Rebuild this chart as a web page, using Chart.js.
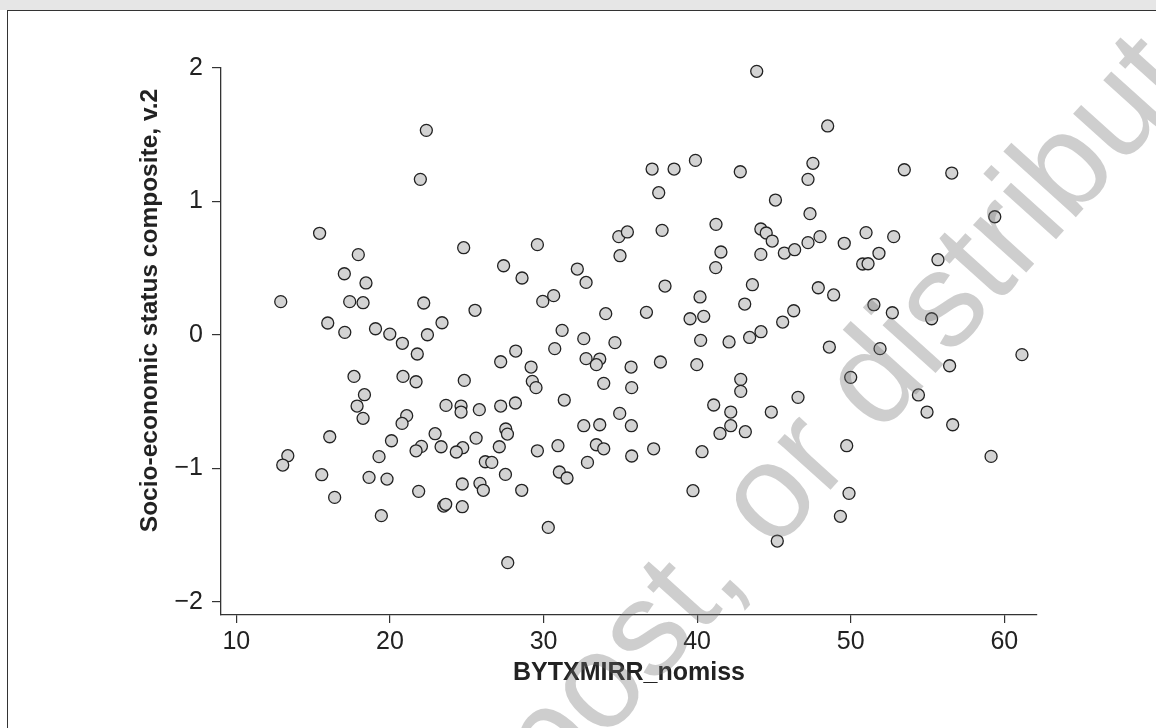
<!DOCTYPE html>
<html>
<head>
<meta charset="utf-8">
<script src="https://cdn.jsdelivr.net/npm/chart.js@4.4.1/dist/chart.umd.min.js"></script>
<style>
    html, body { margin: 0; padding: 0; background: #fff; }
    body { width: 1156px; height: 728px; position: relative; overflow: hidden; }
    .topbar { position: absolute; left: 0; top: 0; width: 1156px; height: 10px; background: #e6e6e6; }
    .frame { position: absolute; left: 7px; top: 10px; width: 1160px; height: 730px; border-top: 1.5px solid #333; border-left: 1.5px solid #333; }
    #wrap { position: absolute; left: 0; top: 0; width: 1156px; height: 728px; }
</style>
</head>
<body>
<div class="topbar"></div>
<div class="frame"></div>
<div id="wrap"><canvas id="scatterChart"></canvas></div>
<script>
// reading score (x) vs SES composite (y)
const xValues = [
    22.37, 21.98, 15.42, 17.94, 24.80, 17.03, 18.44, 12.89, 17.38, 18.25, 22.20, 25.54, 15.95, 23.39, 17.06, 19.06, 19.99, 22.44, 20.81, 27.40,
    21.78, 27.21, 17.66, 20.85, 21.70, 24.84, 18.34, 17.86, 18.25, 21.09, 20.79, 23.65, 24.63, 24.63, 25.82, 27.21, 22.94, 25.61, 27.12, 27.54,
    27.65, 16.08, 20.10, 13.35, 13.02, 19.29, 22.05, 21.70, 23.33, 24.74, 24.32, 26.21, 26.63, 27.52, 15.56, 18.64, 19.81, 24.71, 25.86, 26.08,
    21.87, 16.40, 23.50, 23.63, 24.71, 19.44,
    43.88, 37.07, 38.50, 39.89, 42.81, 37.50, 45.10, 41.23, 44.15, 44.50, 44.89, 44.15, 34.90, 35.46, 37.72, 29.60, 34.98, 41.55, 41.21, 28.60,
    32.20, 32.77, 37.91, 43.60, 29.95, 30.66, 40.19, 43.10, 34.05, 36.70, 39.54, 40.43, 31.21, 32.62, 34.65, 40.23, 42.08, 43.42, 44.16,
    28.19, 29.19, 30.73, 32.77, 33.66, 33.44, 35.70, 37.61, 39.98, 29.27, 29.51, 33.92, 35.74, 42.84, 42.84, 28.17, 31.35, 34.96, 41.08, 42.19,
    42.19, 41.49, 43.14, 44.83, 32.62, 33.66, 35.72, 29.60, 30.94, 33.44, 33.92, 35.74, 37.17, 40.32, 32.86, 31.03, 31.53, 28.58, 39.73, 30.31, 27.67,
    48.50, 47.54, 47.22, 53.49, 56.58, 47.35, 59.38, 45.68, 46.35, 47.22, 48.00, 49.58, 51.00, 52.80, 51.84, 50.78, 51.13, 55.68, 47.89, 48.89,
    51.51, 52.71, 55.27, 46.29, 45.57,
    48.61, 51.91, 61.15, 56.44, 50.00, 46.57, 54.41, 54.97, 56.64, 49.74, 59.14, 49.89, 49.33, 45.22
];
const yValues = [
    1.533, 1.166, 0.762, 0.602, 0.654, 0.459, 0.390, 0.250, 0.250, 0.242, 0.240, 0.185, 0.090, 0.092, 0.020, 0.047, 0.007, 0.002, -0.062, 0.519,
    -0.142, -0.200, -0.310, -0.310, -0.350, -0.340, -0.447, -0.532, -0.624, -0.604, -0.662, -0.527, -0.532, -0.577, -0.559, -0.532, -0.739, -0.772, -0.837, -0.704,
    -0.742, -0.762, -0.792, -0.904, -0.974, -0.911, -0.834, -0.867, -0.837, -0.844, -0.876, -0.949, -0.954, -1.044, -1.046, -1.066, -1.079, -1.116, -1.111, -1.163,
    -1.171, -1.216, -1.281, -1.268, -1.286, -1.353,
    1.975, 1.243, 1.243, 1.308, 1.223, 1.066, 1.011, 0.829, 0.794, 0.764, 0.704, 0.604, 0.737, 0.772, 0.784, 0.677, 0.594, 0.622, 0.505, 0.427,
    0.494, 0.394, 0.367, 0.377, 0.252, 0.295, 0.285, 0.232, 0.160, 0.170, 0.122, 0.140, 0.035, -0.027, -0.057, -0.040, -0.052, -0.018, 0.025,
    -0.120, -0.240, -0.102, -0.177, -0.180, -0.222, -0.240, -0.202, -0.222, -0.347, -0.394, -0.362, -0.394, -0.332, -0.422, -0.509, -0.487, -0.587, -0.524, -0.577,
    -0.679, -0.737, -0.724, -0.577, -0.679, -0.672, -0.679, -0.867, -0.829, -0.822, -0.852, -0.906, -0.852, -0.874, -0.954, -1.026, -1.071, -1.163, -1.166, -1.441, -1.705,
    1.566, 1.286, 1.166, 1.238, 1.213, 0.909, 0.886, 0.614, 0.639, 0.692, 0.737, 0.687, 0.767, 0.737, 0.612, 0.532, 0.534, 0.564, 0.354, 0.300,
    0.227, 0.167, 0.122, 0.182, 0.097,
    -0.090, -0.102, -0.147, -0.230, -0.317, -0.467, -0.449, -0.577, -0.672, -0.829, -0.909, -1.186, -1.358, -1.543
];
const xTicks = [10, 20, 30, 40, 50, 60];
const yTicks = [-2, -1, 0, 1, 2];

const xTitle = 'BYTXMIRR_nomiss';
const yTitle = 'Socio-economic status composite, v.2';
const watermark = 'post, or distribute';

const fontFamily = "'Liberation Sans', Arial, Helvetica, sans-serif";
Chart.defaults.font.family = fontFamily;
Chart.defaults.color = '#222';

function fmtTick(v) {
    return v < 0 ? '\u2212' + Math.abs(v) : String(v);
}

// y title sits a bit above the plot centre in the original, so draw it by hand
const yTitlePlugin = {
    id: 'yTitle',
    afterDraw(chart) {
        const { ctx, chartArea } = chart;
        ctx.save();
        ctx.translate(chartArea.left - 71, (chartArea.top + chartArea.bottom) / 2 - 31);
        ctx.rotate(-Math.PI / 2);
        ctx.font = 'bold 24.5px ' + fontFamily;
        ctx.fillStyle = '#222';
        ctx.textAlign = 'center';
        ctx.textBaseline = 'middle';
        ctx.fillText(yTitle, 0, 0);
        ctx.restore();
    }
};

const watermarkPlugin = {
    id: 'watermark',
    afterDraw(chart) {
        const ctx = chart.ctx;
        ctx.save();
        ctx.translate(553, 798);
        ctx.rotate(-48 * Math.PI / 180);
        ctx.font = '135px ' + fontFamily;
        ctx.fillStyle = 'rgba(110, 110, 110, 0.34)';
        ctx.textAlign = 'left';
        ctx.textBaseline = 'alphabetic';
        ctx.fillText(watermark, 0, 0);
        ctx.restore();
    }
};

const ctx = document.getElementById('scatterChart').getContext('2d');
new Chart(ctx, {
    type: 'scatter',
    data: {
        datasets: [{
            data: xValues.map((x, i) => ({ x: x, y: yValues[i] })),
            backgroundColor: '#d3d3d3',
            borderColor: '#222',
            borderWidth: 1.3,
            pointRadius: 6,
            pointHoverRadius: 6,
            clip: false
        }]
    },
    options: {
        responsive: true,
        maintainAspectRatio: false,
        animation: false,
        events: [],
        layout: { padding: { top: 68, left: 0, right: 119, bottom: 0 } },
        scales: {
            x: {
                type: 'linear',
                min: 9.0,
                max: 62.13,
                afterFit: s => { s.height = 113; },
                afterBuildTicks: s => { s.ticks = xTicks.map(v => ({ value: v })); },
                grid: { drawOnChartArea: false, tickLength: 8, color: '#333', lineWidth: 1.2 },
                border: { color: '#333', width: 1.3 },
                ticks: { font: { size: 25 }, color: '#222', padding: 4, maxRotation: 0, autoSkip: false, callback: fmtTick },
                title: {
                    display: true,
                    text: xTitle,
                    color: '#222',
                    font: { size: 25, weight: 'bold' },
                    padding: { top: 0, bottom: 40 }
                }
            },
            y: {
                type: 'linear',
                min: -2.097,
                max: 2.0,
                afterFit: s => { s.width = 221; },
                afterBuildTicks: s => { s.ticks = yTicks.map(v => ({ value: v })); },
                grid: { drawOnChartArea: false, tickLength: 9, color: '#333', lineWidth: 1.2 },
                border: { color: '#333', width: 1.3 },
                ticks: { font: { size: 25 }, color: '#222', padding: 9, autoSkip: false, callback: fmtTick }
            }
        },
        plugins: {
            legend: { display: false },
            tooltip: { enabled: false }
        }
    },
    plugins: [yTitlePlugin, watermarkPlugin]
});
</script>
</body>
</html>
